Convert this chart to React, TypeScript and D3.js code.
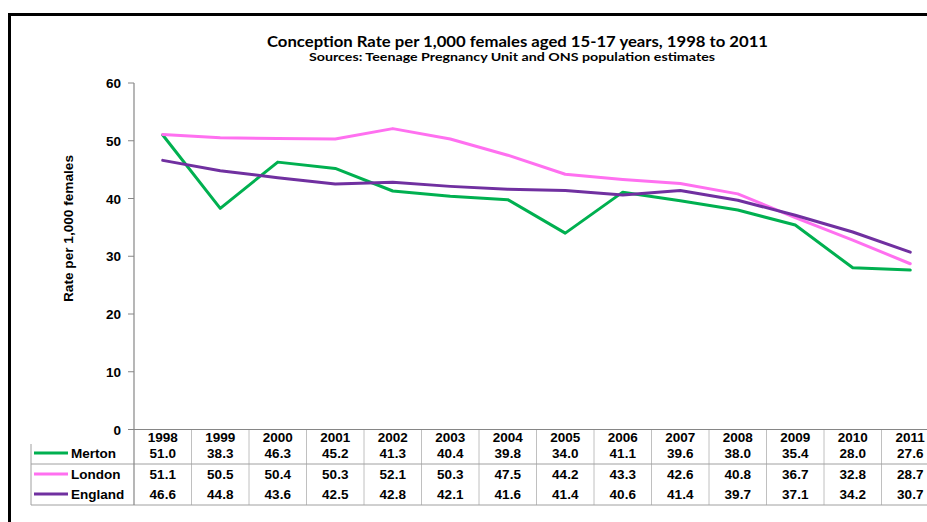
import React from 'react';
import * as d3 from 'd3';

// Data
const years = ['1998', '1999', '2000', '2001', '2002', '2003', '2004', '2005', '2006', '2007', '2008', '2009', '2010', '2011'];
const merton = [51.0, 38.3, 46.3, 45.2, 41.3, 40.4, 39.8, 34.0, 41.1, 39.6, 38.0, 35.4, 28.0, 27.6];
const london = [51.1, 50.5, 50.4, 50.3, 52.1, 50.3, 47.5, 44.2, 43.3, 42.6, 40.8, 36.7, 32.8, 28.7];
const england = [46.6, 44.8, 43.6, 42.5, 42.8, 42.1, 41.6, 41.4, 40.6, 41.4, 39.7, 37.1, 34.2, 30.7];
const yTicks = [0, 10, 20, 30, 40, 50, 60];

const series = [
  { name: 'Merton', values: merton, color: '#00b050' },
  { name: 'London', values: london, color: '#ff70f0' },
  { name: 'England', values: england, color: '#7030a0' },
];

const ARIAL = "'Liberation Sans', Arial, Helvetica, sans-serif";

export default function App() {
  const width = 927;
  const height = 522;

  // plot area
  const left = 134;
  const colW = 57.5;
  const x = d3.scaleBand<string>().domain(years).range([left, left + colW * years.length]);
  const y = d3.scaleLinear().domain([0, 60]).range([429.5, 83]);
  const cx = (yr: string) => (x(yr) as number) + x.bandwidth() / 2;

  const line = d3
    .line<number>()
    .x((_, i) => cx(years[i]))
    .y(d => y(d));

  // table rows
  const yearBase = 442;
  const rowBase = [458, 479, 499];
  const legendY = [453, 474, 494];
  const tableBottom = 505;

  return (
    <svg width={width} height={height} style={{ position: 'absolute', left: 0, top: 0, background: '#fff' }}>
      {/* outer frame */}
      <rect x={9.5} y={14.5} width={940} height={540} fill="none" stroke="#000" strokeWidth={3} />

      {/* titles */}
      <text x={517.5} y={47} textAnchor="middle" fontFamily="Lato, 'Open Sans', sans-serif" fontWeight="bold" fontSize={15}
        textLength={501} lengthAdjust="spacingAndGlyphs" fill="#000">
        Conception Rate per 1,000 females aged 15-17 years, 1998 to 2011
      </text>
      <text x={512} y={61} textAnchor="middle" fontFamily="Lato, 'Open Sans', sans-serif" fontWeight="bold" fontSize={11.5}
        textLength={406} lengthAdjust="spacingAndGlyphs" fill="#000">
        Sources: Teenage Pregnancy Unit and ONS population estimates
      </text>

      {/* y axis label */}
      <text transform="translate(73,228.5) rotate(-90)" textAnchor="middle" style={{ fontFamily: ARIAL }} fontWeight="bold"
        fontSize={13} textLength={147} lengthAdjust="spacingAndGlyphs" fill="#000">
        Rate per 1,000 females
      </text>

      {/* y ticks */}
      {yTicks.map(t => (
        <g key={t}>
          <line x1={128} x2={left} y1={y(t)} y2={y(t)} stroke="#868686" strokeWidth={1} />
          <text x={121} y={y(t) + 5} textAnchor="end" style={{ fontFamily: ARIAL }} fontWeight="bold" fontSize={13.5} fill="#000">
            {t}
          </text>
        </g>
      ))}

      {/* data table grid */}
      {years.map((yr, i) => i > 0 && (
        <line key={yr} x1={x(yr)} x2={x(yr)} y1={y(0)} y2={tableBottom} stroke="#c0c0c0" strokeWidth={1} />
      ))}
      <line x1={31} x2={width} y1={464} y2={464} stroke="#a0a0a0" strokeWidth={1} />
      <line x1={31} x2={width} y1={tableBottom} y2={tableBottom} stroke="#a0a0a0" strokeWidth={1} />
      <line x1={31} x2={31} y1={444} y2={tableBottom} stroke="#a0a0a0" strokeWidth={1} />

      {/* axes */}
      <line x1={left} x2={left} y1={y(60)} y2={tableBottom} stroke="#868686" strokeWidth={1.2} />
      <line x1={left} x2={width} y1={y(0)} y2={y(0)} stroke="#868686" strokeWidth={1.2} />

      {/* lines */}
      {series.map(s => (
        <path key={s.name} d={line(s.values) as string} fill="none" stroke={s.color} strokeWidth={3}
          strokeLinejoin="round" strokeLinecap="round" />
      ))}

      {/* table: years */}
      {years.map(yr => (
        <text key={yr} x={cx(yr)} y={yearBase} textAnchor="middle" style={{ fontFamily: ARIAL }} fontWeight="bold" fontSize={13.5} fill="#000">
          {yr}
        </text>
      ))}

      {/* table: series rows */}
      {series.map((s, r) => (
        <g key={s.name}>
          <line x1={34} x2={68} y1={legendY[r]} y2={legendY[r]} stroke={s.color} strokeWidth={3} />
          <text x={71} y={rowBase[r]} style={{ fontFamily: ARIAL }} fontWeight="bold" fontSize={13.5} fill="#000">
            {s.name}
          </text>
          {s.values.map((v, i) => (
            <text key={i} x={cx(years[i])} y={rowBase[r]} textAnchor="middle" style={{ fontFamily: ARIAL }} fontWeight="bold"
              fontSize={13.5} fill="#000">
              {v.toFixed(1)}
            </text>
          ))}
        </g>
      ))}
    </svg>
  );
}
